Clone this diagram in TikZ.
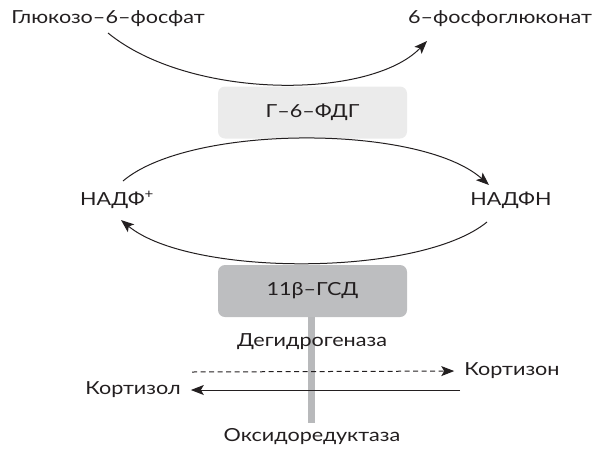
\documentclass[tikz,border=0pt]{standalone}
\usepackage{fontspec}
\setmainfont[FakeStretch=1.2]{Lato}
\usetikzlibrary{arrows.meta}
\definecolor{ink}{HTML}{231F20}
\definecolor{lightbox}{HTML}{EBEBEB}
\definecolor{darkbox}{HTML}{BDBEC0}
\definecolor{bar}{HTML}{B8B9BB}
\tikzset{
  lbl/.style={font=\fontsize{18}{21}\selectfont, text=ink, inner sep=0pt},
  enz/.style={rounded corners=7pt, minimum width=189pt, minimum height=52pt, font=\fontsize{18}{21}\selectfont, text=ink},
  arr/.style={draw=ink, line width=1pt, -{Stealth[length=13pt,width=10pt,inset=3pt]}},
}
\begin{document}
\begin{tikzpicture}[x=1pt,y=-1pt]
\useasboundingbox (0,0) rectangle (596,450);
\fill[bar] (308,317) rectangle (315,423);
\node[lbl] (g6p) at (108,19) {Глюкозо–6–фосфат};
\node[lbl] (pg) at (500,19) {6–фосфоглюконат};
\node[enz, fill=lightbox] (g6pd) at (312.5,112.5) {Г–6–ФДГ};
\node[lbl] (nadp) at (117,200) {НАДФ\textsuperscript{+}};
\node[lbl] (nadph) at (511,200) {НАДФН};
\node[enz, fill=darkbox] (hsd) at (312.5,291) {11β–ГСД};
\node[lbl] (deh) at (312,342) {Дегидрогеназа};
\node[lbl] (cortisone) at (512,371) {Кортизон};
\node[lbl] (cortisol) at (133,390) {Кортизол};
\node[lbl] (oxr) at (312,437) {Оксидоредуктаза};
\coordinate (a1) at (108,33);
\coordinate (a2) at (427,41);
\coordinate (b1) at (123,181);
\coordinate (b2) at (489,185);
\coordinate (c1) at (487,222);
\coordinate (c2) at (121,220);
\draw[arr] (a1) .. controls (190,100) and (370,100) .. (a2);
\draw[arr] (b1) .. controls (190,124) and (420,124) .. (b2);
\draw[arr] (c1) .. controls (420,277) and (190,277) .. (c2);
\draw[arr, dash pattern=on 5pt off 3.5pt, shorten >=10pt] (192,372) -- (cortisone.west);
\draw[arr, shorten >=10pt] (460,390) -- (cortisol.east);
\end{tikzpicture}
\end{document}
